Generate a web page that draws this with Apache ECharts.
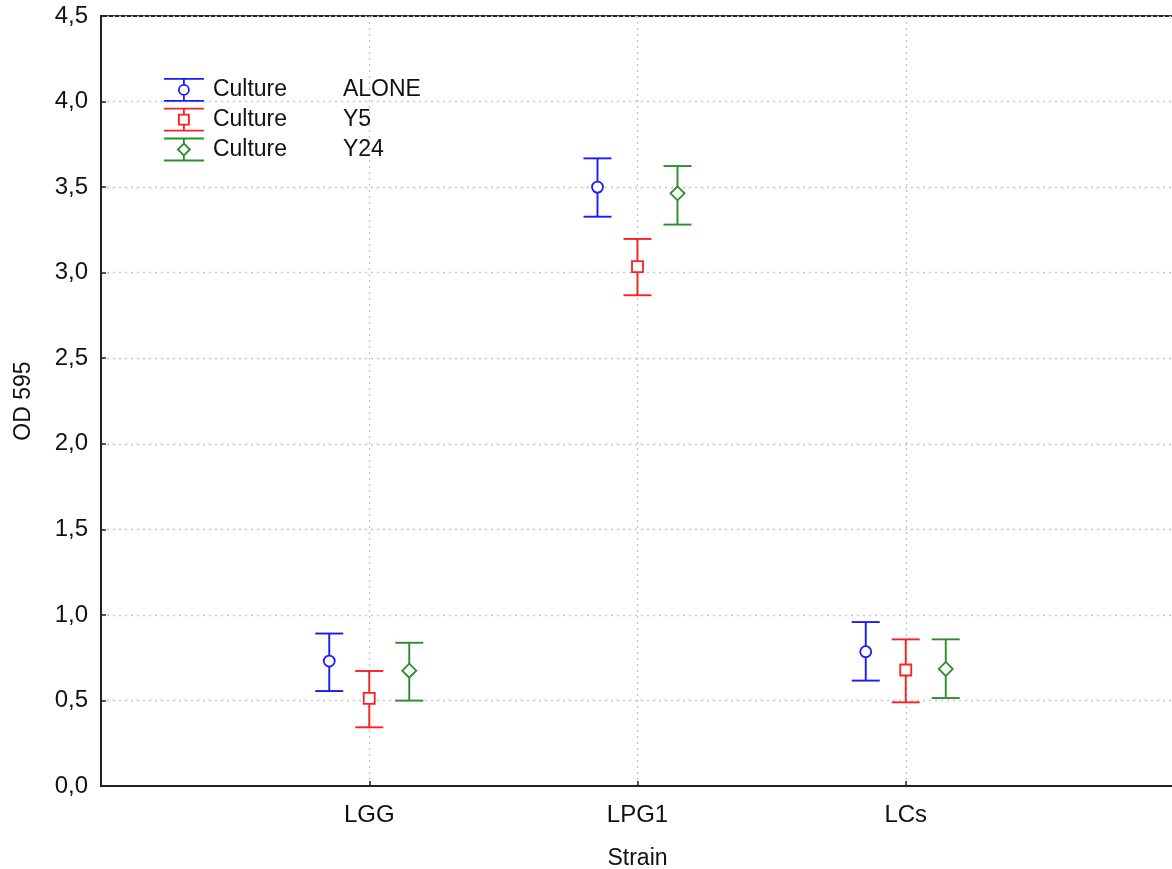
<!DOCTYPE html>
<html>
<head>
    <meta charset="utf-8">
    <title>OD 595 by Strain</title>
    <script src="https://cdn.jsdelivr.net/npm/echarts@6/dist/echarts.min.js"></script>
    <style>
        html, body { margin: 0; padding: 0; background: #fff; }
        #chart { width: 1172px; height: 869px; }
    </style>
</head>
<body>
    <div id="chart"></div>
    <script type="text/javascript">
        // data
        var strains = ['LGG', 'LPG1', 'LCs'];
        var groups = ['ALONE', 'Y5', 'Y24'];

        var aloneMean = [0.73, 3.50, 0.785];
        var aloneLow  = [0.555, 3.327, 0.616];
        var aloneHigh = [0.891, 3.668, 0.958];

        var y5Mean = [0.512, 3.035, 0.678];
        var y5Low  = [0.343, 2.868, 0.489];
        var y5High = [0.672, 3.197, 0.857];

        var y24Mean = [0.674, 3.464, 0.684];
        var y24Low  = [0.499, 3.281, 0.514];
        var y24High = [0.837, 3.623, 0.857];

        var colors = ['#1a1aff', '#ff1f1f', '#2a8f2a'];
        var markers = ['circle', 'square', 'diamond'];
        var offsets = [-40, 0, 40];
        var font = "'Liberation Sans', Arial, sans-serif";

        function rows(mean, low, high) {
            var out = [];
            for (var i = 0; i < strains.length; i++) {
                out.push([i + 1, mean[i], low[i], high[i]]);
            }
            return out;
        }
        var seriesData = [
            rows(aloneMean, aloneLow, aloneHigh),
            rows(y5Mean, y5Low, y5High),
            rows(y24Mean, y24Low, y24High)
        ];

        function renderItem(params, api) {
            var k = params.seriesIndex;
            var x = api.value(0);
            var pm = api.coord([x, api.value(1)]);
            var pl = api.coord([x, api.value(2)]);
            var ph = api.coord([x, api.value(3)]);
            var cx = pm[0] + offsets[k], cy = pm[1];
            var st = { stroke: colors[k], lineWidth: 1.9, fill: 'none' };
            var ms = { stroke: colors[k], lineWidth: 1.8, fill: '#fff' };
            var mk;
            if (markers[k] == 'circle') {
                mk = { type: 'circle', shape: { cx: cx, cy: cy, r: 5.5 }, style: ms };
            } else if (markers[k] == 'square') {
                mk = { type: 'rect', shape: { x: cx - 5.5, y: cy - 5.5, width: 11, height: 11 }, style: ms };
            } else {
                mk = { type: 'polygon', shape: { points: [[cx, cy - 7], [cx + 7, cy], [cx, cy + 7], [cx - 7, cy]] }, style: ms };
            }
            return {
                type: 'group',
                children: [
                    { type: 'line', shape: { x1: cx, y1: ph[1], x2: cx, y2: pl[1] }, style: st },
                    { type: 'line', shape: { x1: cx - 14, y1: ph[1], x2: cx + 14, y2: ph[1] }, style: st },
                    { type: 'line', shape: { x1: cx - 14, y1: pl[1], x2: cx + 14, y2: pl[1] }, style: st },
                    mk
                ]
            };
        }

        // legend icons: error bar with the marker in the middle (40 x 22)
        var icons = [
            'path://M0,0H40M20,0V6M25,11A5,5 0 1,1 15,11A5,5 0 1,1 25,11M20,16V22M0,22H40',
            'path://M0,0H40M20,0V6M15,6H25V16H15ZM20,16V22M0,22H40',
            'path://M0,0H40M20,0V5M20,5L26,11L20,17L14,11ZM20,17V22M0,22H40'
        ];

        var series = [];
        var legendData = [];
        for (var k = 0; k < groups.length; k++) {
            series.push({
                name: groups[k],
                type: 'custom',
                renderItem: renderItem,
                encode: { x: 0, y: [1, 2, 3] },
                itemStyle: { color: colors[k] },
                data: seriesData[k],
                z: 5
            });
            legendData.push({
                name: groups[k],
                icon: icons[k],
                itemStyle: { color: 'transparent', borderColor: colors[k], borderWidth: 1.8 }
            });
        }

        var myChart = echarts.init(document.getElementById('chart'));
        var option = {
            backgroundColor: '#fff',
            animation: false,
            textStyle: { fontFamily: font },
            grid: {
                left: 101, right: -2, top: 16, bottom: 83,
                outerBoundsMode: 'none',
                show: true, borderColor: '#222', borderWidth: 2, backgroundColor: 'transparent'
            },
            legend: {
                data: legendData,
                orient: 'vertical',
                left: 158, top: 73,
                itemWidth: 40, itemHeight: 22, itemGap: 6,
                selectedMode: false,
                formatter: function (name) { return '{a|Culture}{b|' + name + '}'; },
                textStyle: {
                    fontFamily: font, fontSize: 23, color: '#111',
                    rich: {
                        a: { fontFamily: font, fontSize: 23, color: '#111', width: 130, padding: [0, 0, 0, 4] },
                        b: { fontFamily: font, fontSize: 23, color: '#111' }
                    }
                }
            },
            xAxis: {
                type: 'value',
                min: 0, max: 4, interval: 1,
                name: 'Strain',
                nameLocation: 'middle',
                nameGap: 61,
                nameTextStyle: { fontFamily: font, fontSize: 23, color: '#111' },
                axisLine: { show: true, onZero: false, lineStyle: { color: '#222', width: 2 } },
                axisTick: { show: true, inside: true, length: 5, customValues: [1, 2, 3], lineStyle: { color: '#222', width: 1.5 } },
                axisLabel: {
                    customValues: [1, 2, 3],
                    margin: 17,
                    fontFamily: font, fontSize: 24, color: '#111',
                    formatter: function (v) { return strains[v - 1] || ''; }
                },
                splitLine: { show: true, lineStyle: { color: '#c4c4c4', type: [2, 4], width: 1.3 } }
            },
            yAxis: {
                type: 'value',
                min: 0, max: 4.5, interval: 0.5,
                name: 'OD 595',
                nameLocation: 'middle',
                nameGap: 66,
                nameTextStyle: { fontFamily: font, fontSize: 23, color: '#111' },
                axisLine: { show: true, lineStyle: { color: '#222', width: 2 } },
                axisTick: { show: true, inside: true, length: 5, lineStyle: { color: '#222', width: 1.5 } },
                axisLabel: {
                    margin: 13,
                    fontFamily: font, fontSize: 24, color: '#111',
                    formatter: function (v) { return v.toFixed(1).replace('.', ','); }
                },
                splitLine: { show: true, lineStyle: { color: '#c4c4c4', type: [2, 4], width: 1.3 } }
            },
            series: series
        };
        myChart.setOption(option);
    </script>
</body>
</html>
